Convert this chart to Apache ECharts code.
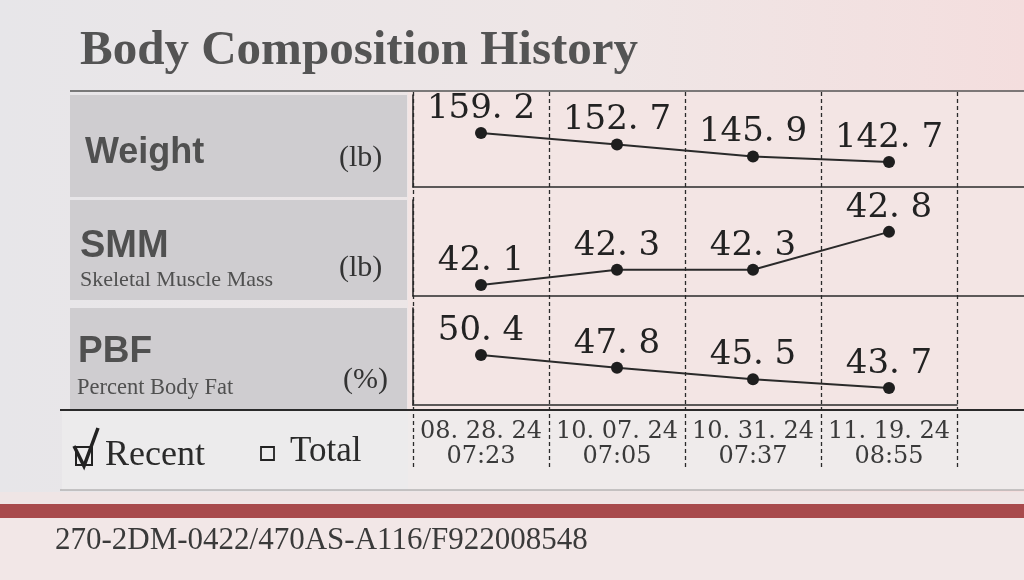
<!DOCTYPE html>
<html><head><meta charset="utf-8">
<script src="https://cdn.jsdelivr.net/npm/echarts@6/dist/echarts.min.js"></script>
<style>html,body{margin:0;padding:0;background:#ece8e9}#c{width:1024px;height:580px}</style>
</head><body><div id="c"></div>
<script>
const dates = ['08. 28. 24\n07:23', '10. 07. 24\n07:05', '10. 31. 24\n07:37', '11. 19. 24\n08:55'];
const weight = [159.2, 152.7, 145.9, 142.7];
const smm = [42.1, 42.3, 42.3, 42.8];
const pbf = [50.4, 47.8, 45.5, 43.7];

const chart = echarts.init(document.getElementById('c'), null, {renderer: 'canvas'});
const SERIF = '"Liberation Serif", "DejaVu Serif", serif';
const NUM = '"DejaVu Serif", "Liberation Serif", serif';
const SANS = '"Liberation Sans", Arial, sans-serif';
const LEFT = 413, WIDTH = 544;
const axisLine = {show: true, lineStyle: {color: '#2a2a2a', width: 1.6}};

function panelX(idx) {
  return {type: 'category', gridIndex: idx, data: dates, boundaryGap: true,
    axisLine: axisLine, axisTick: {show: false}, axisLabel: {show: false}, splitLine: {show: false}};
}
function panelY(idx, min, max) {
  return {type: 'value', gridIndex: idx, min: min, max: max,
    axisLine: axisLine, axisTick: {show: false}, axisLabel: {show: false}, splitLine: {show: false}};
}
function fmt(p) { return p.value.toFixed(1).replace('.', '. '); }
function lineSeries(idx, data) {
  return {type: 'line', xAxisIndex: idx, yAxisIndex: idx, data: data,
    symbol: 'circle', symbolSize: 12, itemStyle: {color: '#1e1e1e'},
    lineStyle: {color: '#2a2a2a', width: 2}, z: 5,
    label: {show: true, position: 'top', distance: 1, formatter: fmt,
      fontFamily: NUM, fontSize: 34, color: '#222'}};
}
function txt(x, y, text, font, fill, align) {
  return {type: 'text', x: x, y: y, z: 50,
    style: {text: text, font: font, fill: fill || '#4a4a4a', textAlign: align || 'left',
      textVerticalAlign: 'middle', verticalAlign: 'middle'}};
}
function rect(x, y, w, h, fill, z) {
  return {type: 'rect', shape: {x: x, y: y, width: w, height: h}, style: {fill: fill}, z: z == null ? -10 : z, silent: true};
}
function hline(x1, y, x2, color, w) {
  return {type: 'line', shape: {x1: x1, y1: y, x2: x2, y2: y}, style: {stroke: color, lineWidth: w}, z: 40, silent: true};
}

const option = {
  animation: false,
  backgroundColor: {type: 'linear', x: 0, y: 0, x2: 1, y2: 0,
    colorStops: [{offset: 0, color: '#e7e6e9'}, {offset: 0.6, color: '#efe6e6'}, {offset: 1, color: '#f4dede'}]},
  grid: [
    {left: LEFT, top: 95, width: WIDTH, height: 92},
    {left: LEFT, top: 200, width: WIDTH, height: 96},
    {left: LEFT, top: 308, width: WIDTH, height: 97},
    {left: LEFT, top: 92, width: WIDTH, height: 378}
  ],
  xAxis: [
    panelX(0), panelX(1), panelX(2),
    {type: 'category', gridIndex: 3, data: dates, boundaryGap: true,
      axisLine: {show: false}, axisTick: {show: false},
      axisLabel: {show: true, inside: true, margin: 1, interval: 0,
        fontFamily: NUM, fontSize: 24, lineHeight: 25, color: '#3a3a3a', align: 'center'},
      splitLine: {show: true, interval: 0, lineStyle: {color: '#2a2a2a', width: 1.3, type: [4, 3]}}}
  ],
  yAxis: [
    panelY(0, 128.5, 180.8),
    panelY(1, 41.955, 43.22),
    panelY(2, 40.25, 59.94),
    {type: 'value', gridIndex: 3, show: false, min: 0, max: 1}
  ],
  series: [
    lineSeries(0, weight),
    lineSeries(1, smm),
    lineSeries(2, pbf)
  ],
  graphic: {elements: [
    rect(408, 92, 616, 318, '#f3e5e4'),
    rect(408, 410, 616, 80, '#efebeb'),
    rect(62, 410, 346, 80, '#ecebec'),
    rect(70, 95, 337, 102, '#cfcdd0'),
    rect(70, 200, 337, 100, '#cfcdd0'),
    rect(70, 308, 337, 102, '#cfcdd0'),
    rect(0, 492, 1024, 12, '#efe5e5'),
    rect(0, 504, 1024, 14, '#a84a4c', 30),
    rect(0, 518, 1024, 62, '#f2e7e7'),
    hline(70, 91, 1024, '#555', 1.5),
    hline(LEFT + WIDTH, 187, 1024, '#2a2a2a', 1.6),
    hline(LEFT + WIDTH, 296, 1024, '#2a2a2a', 1.6),
    hline(60, 410, 1024, '#2a2a2a', 2.2),
    hline(60, 490, 1024, '#9a9a9a', 1.2),
    txt(80, 51, 'Body Composition History', 'bold 49px ' + SERIF, '#545454'),
    txt(85, 153, 'Weight', 'bold 36px ' + SANS, '#505050'),
    txt(339, 158, '(lb)', '30px ' + SERIF, '#333'),
    txt(80, 247, 'SMM', 'bold 38px ' + SANS, '#505050'),
    txt(80, 280, 'Skeletal Muscle Mass', '22px ' + SERIF, '#505050'),
    txt(339, 268, '(lb)', '30px ' + SERIF, '#333'),
    txt(78, 352, 'PBF', 'bold 37px ' + SANS, '#505050'),
    txt(77, 388, 'Percent Body Fat', '22.5px ' + SERIF, '#505050'),
    txt(343, 380, '(%)', '30px ' + SERIF, '#333'),
    {type: 'rect', shape: {x: 76, y: 447, width: 16, height: 18}, style: {fill: 'none', stroke: '#222', lineWidth: 2}, z: 50},
    {type: 'polyline', shape: {points: [[74, 446], [84, 466], [98, 428]]}, style: {fill: 'none', stroke: '#222', lineWidth: 3.5}, z: 51},
    txt(105, 456, 'Recent', '36px ' + SERIF, '#2a2a2a'),
    {type: 'rect', shape: {x: 261, y: 447, width: 13, height: 13}, style: {fill: 'none', stroke: '#222', lineWidth: 1.8}, z: 50},
    txt(290, 452, 'Total', '35px ' + SERIF, '#2a2a2a'),
    txt(55, 541, '270-2DM-0422/470AS-A116/F922008548', '31px ' + SERIF, '#3a3a3a')
  ]}
};
chart.setOption(option);
</script>
</body></html>
